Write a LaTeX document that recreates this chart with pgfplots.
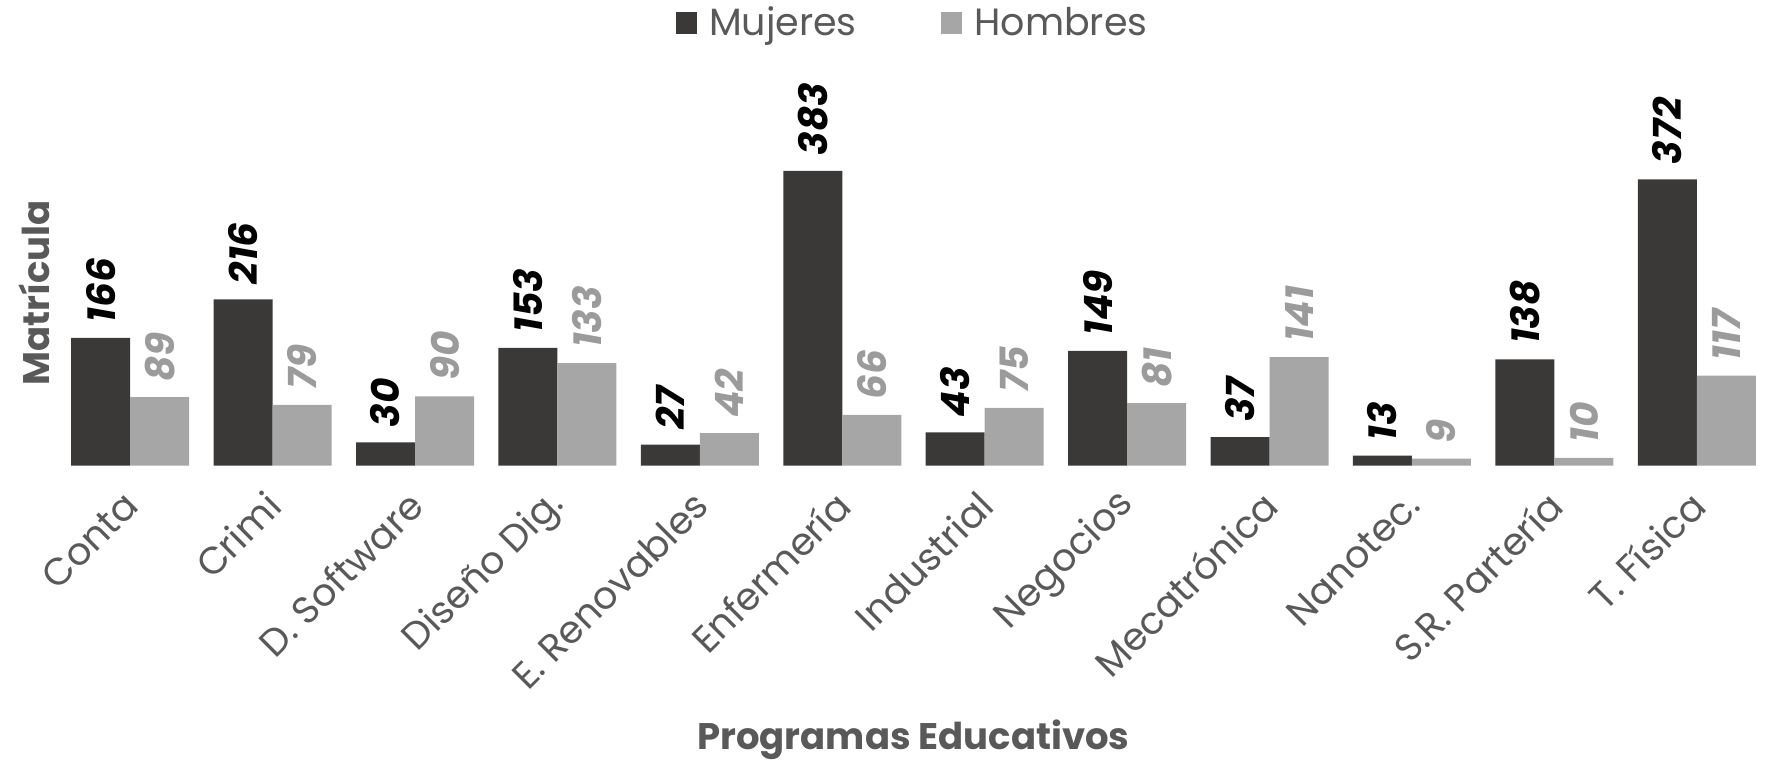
\documentclass[border=0pt]{standalone}
\usepackage{fontspec}
\setmainfont{Poppins}
\usepackage{pgfplots}
\pgfplotsset{compat=1.18}
\definecolor{darkbar}{HTML}{3A3938}
\definecolor{lightbar}{HTML}{A6A6A6}
\definecolor{lightlab}{HTML}{9B9B9B}
\definecolor{txtgray}{HTML}{595959}
\begin{document}
\begin{tikzpicture}
\useasboundingbox (-29.5pt,-147.25pt) rectangle (858.5pt,232.75pt);
\begin{axis}[
  scale only axis,
  width=854.5pt, height=192.25pt,
  xmin=-0.5, xmax=11.5, ymin=0, ymax=500,
  enlarge x limits=false,
  ybar, bar width=29.5pt,
  axis line style={draw=none},
  tick style={draw=none},
  ytick=\empty,
  xtick={0,...,11},
  xticklabels={Conta,Crimi,D. Software,Diseño Dig.,E. Renovables,Enfermería,Industrial,Negocios,Mecatrónica,Nanotec.,S.R. Partería,T. Física},
  xticklabel style={font=\fontsize{19}{23}\selectfont, text=txtgray, xshift=3pt, yshift=-10pt, rotate=45, anchor=east},
  xlabel={Programas Educativos},
  xlabel style={font=\fontsize{18.5}{22}\selectfont\bfseries, text=txtgray, at={(axis description cs:0.5,0)}, anchor=center, yshift=-137pt},
  ylabel={Matrícula},
  ylabel style={font=\fontsize{18.5}{22}\selectfont\bfseries, text=txtgray, at={(axis description cs:0,0.449)}, anchor=center, yshift=12.5pt},
  clip=false,
  /pgf/number format/assume math mode=true,
  nodes near coords,
  nodes near coords style={font=\fontsize{19.5}{23}\selectfont\bfseries\itshape, rotate=90, anchor=west, inner xsep=7.5pt, inner ysep=0pt},
  legend style={at={(axis description cs:0.5,1)}, anchor=center, yshift=29pt, draw=none, fill=none, legend columns=2, font=\fontsize{19}{23}\selectfont, text=txtgray,
    /tikz/every even column/.append style={column sep=40pt},
    /tikz/every odd column/.append style={column sep=4pt}},
  legend image code/.code={\fill[#1] (0pt,-5.4pt) rectangle (10.8pt,5.4pt);},
]
\addplot[fill=darkbar, draw=none, bar shift=-14.75pt, nodes near coords style={text=black}] coordinates {
(0,166) (1,216) (2,30) (3,153) (4,27) (5,383) (6,43) (7,149) (8,37) (9,13) (10,138) (11,372)};
\addplot[fill=lightbar, draw=none, bar shift=14.75pt, nodes near coords style={text=lightlab}] coordinates {
(0,89) (1,79) (2,90) (3,133) (4,42) (5,66) (6,75) (7,81) (8,141) (9,9) (10,10) (11,117)};
\legend{Mujeres,Hombres}
\end{axis}
\end{tikzpicture}
\end{document}
